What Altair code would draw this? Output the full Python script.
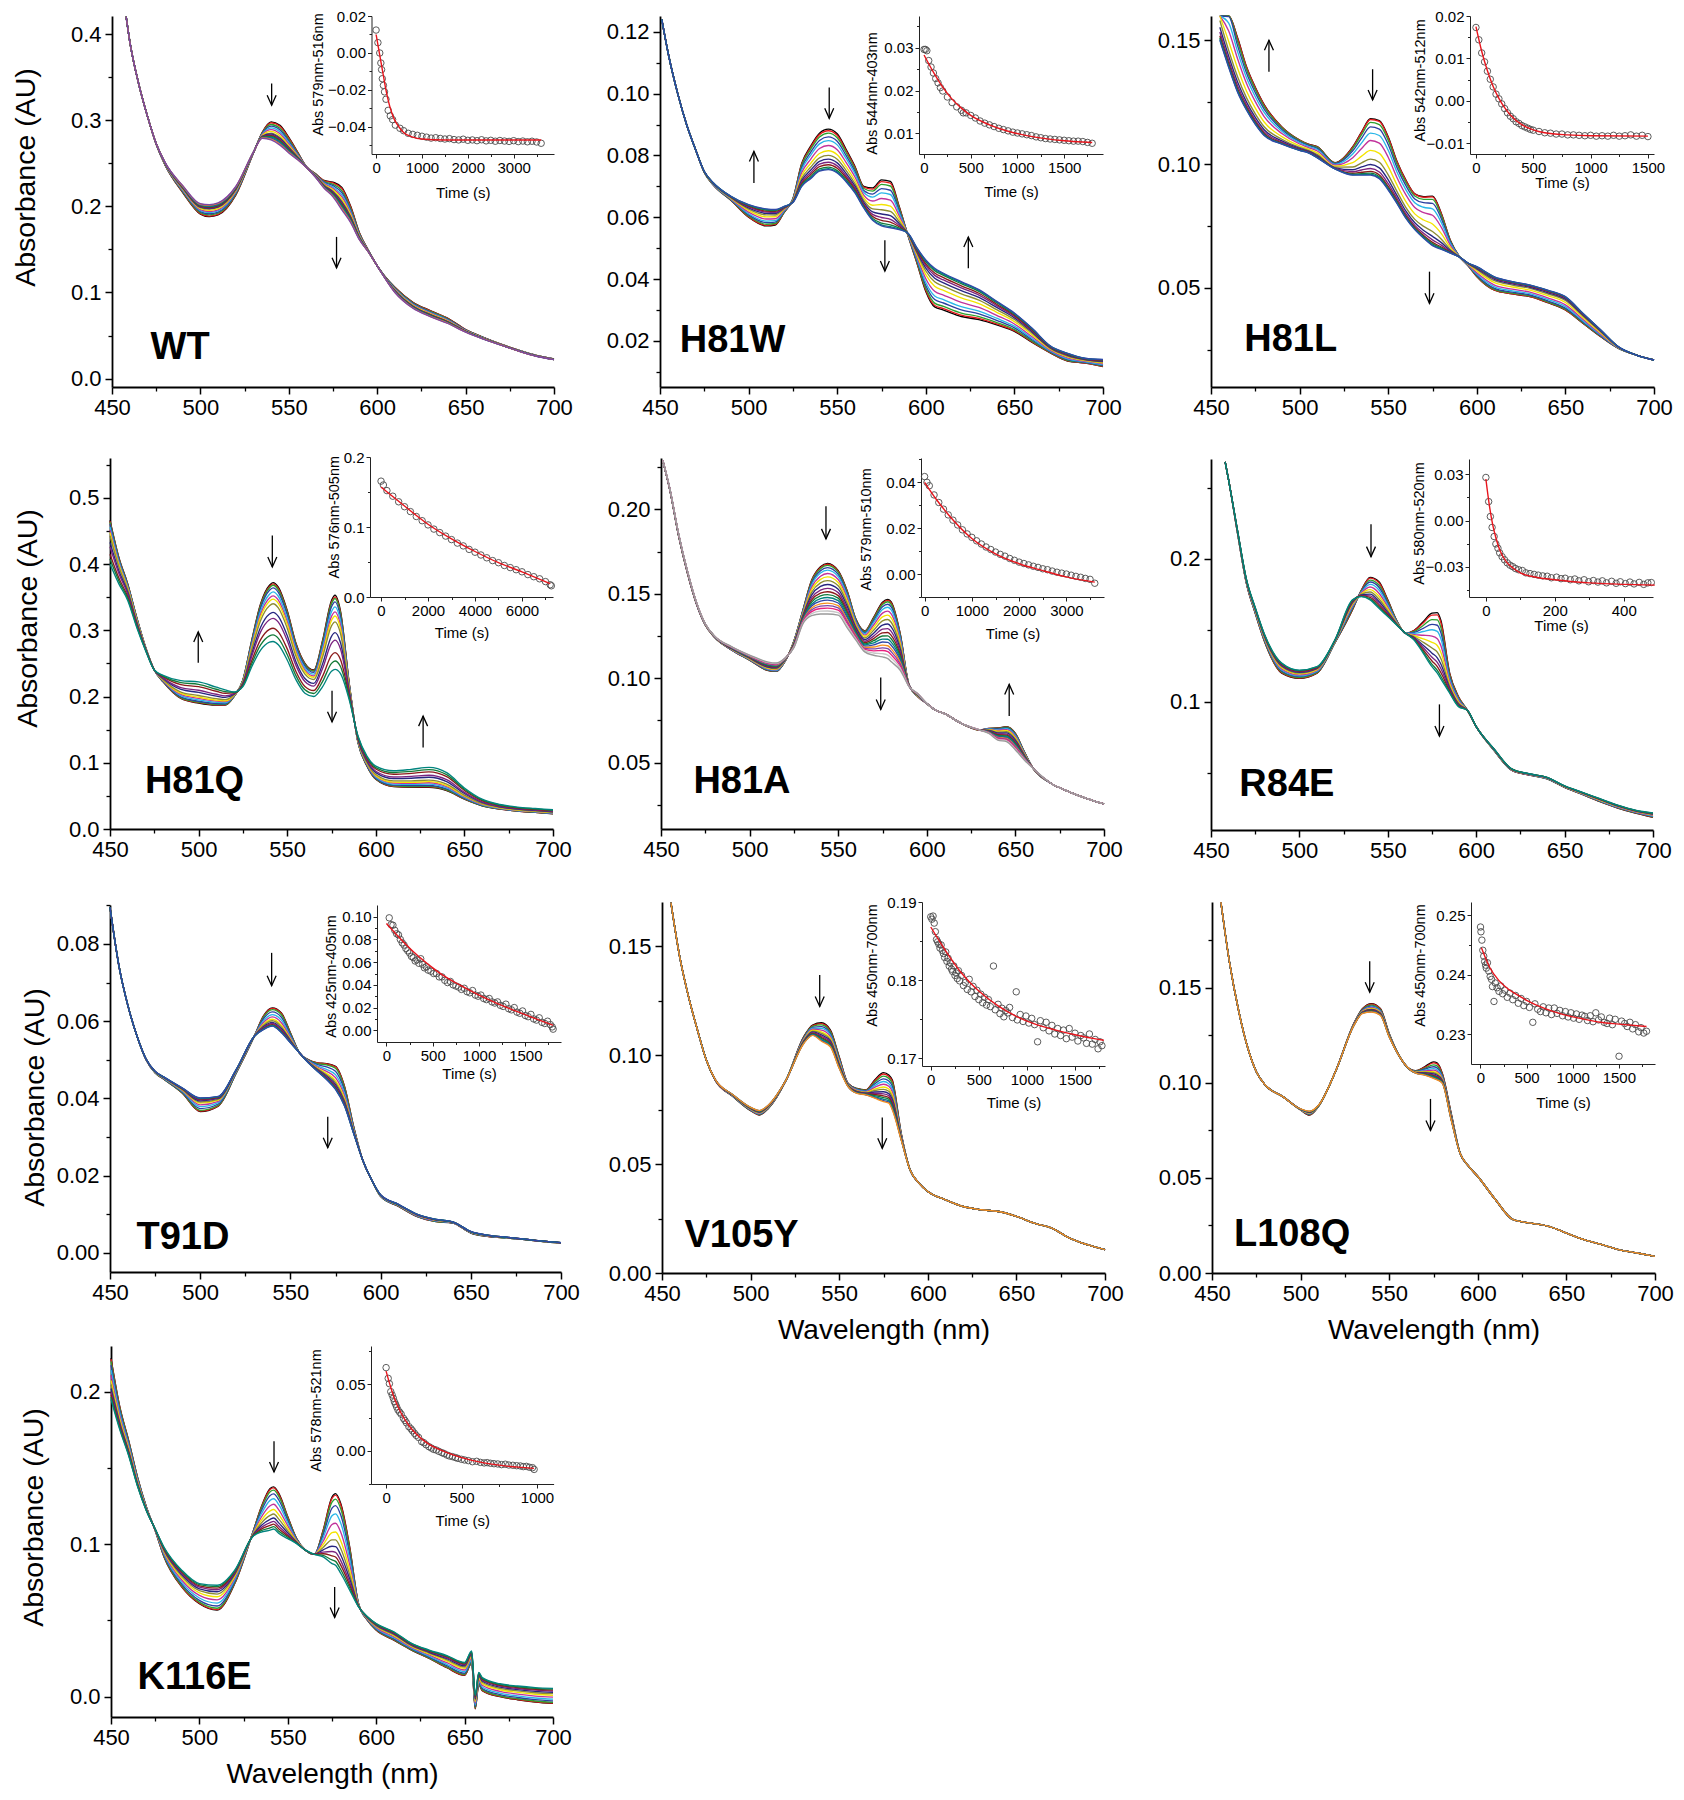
import altair as alt
import pandas as pd

FONT = "Liberation Sans"
CW, CH = 1668, 1784

# Origin-style trace colours (in drawing order: first spectrum -> last spectrum)
PALETTE = ["#000000", "#e41a1c", "#2ca02c", "#2c3fa0", "#29b6e8", "#c1329b", "#f4e400",
           "#8c8c34", "#262680", "#7b2380", "#8b1a1a", "#137a38", "#00847e", "#3048a8",
           "#f6901e", "#7d45a6", "#e8207e", "#c6c6c6", "#9a9a9a"]

X_TICKS = [450, 500, 550, 600, 650, 700]
X_MINOR = [475, 525, 575, 625, 675]

# ---------------- spectra: first and last spectrum, peak height of every trace ----------------
WT_WL = [458,460,465,470,475,480,490,500,505,510,520,530,535,540,545,550,555,560,565,570,575,580,585,590,595,600,610,620,630,640,650,660,670,680,690,700]
WT_FIRST = [0.420,0.392,0.343,0.305,0.272,0.248,0.216,0.191,0.188,0.190,0.213,0.262,0.286,0.298,0.294,0.280,0.263,0.246,0.238,0.230,0.228,0.222,0.200,0.169,0.149,0.131,0.106,0.089,0.079,0.070,0.057,0.048,0.040,0.033,0.027,0.023]
WT_LAST = [0.420,0.392,0.343,0.305,0.273,0.251,0.224,0.203,0.202,0.204,0.223,0.263,0.279,0.277,0.271,0.262,0.254,0.245,0.234,0.221,0.211,0.196,0.181,0.161,0.147,0.131,0.100,0.082,0.072,0.064,0.054,0.046,0.039,0.032,0.026,0.022]
WT_PEAKS = [0.298,0.297,0.295,0.293,0.291,0.289,0.287,0.285,0.284,0.283,0.282,0.281,0.280,0.279,0.278,0.277]

H81W_WL = [451,455,460,465,470,475,480,490,500,510,515,520,525,530,535,540,545,550,555,560,565,570,575,580,585,590,595,600,605,610,620,630,640,650,660,670,680,690,700]
H81W_FIRST = [0.124,0.112,0.100,0.090,0.082,0.0745,0.0705,0.0655,0.0600,0.0572,0.0575,0.0615,0.0660,0.0775,0.0830,0.0872,0.0885,0.0870,0.0820,0.0765,0.0700,0.0695,0.0721,0.0716,0.0635,0.0540,0.0452,0.0360,0.0310,0.0300,0.0279,0.0269,0.0252,0.0231,0.0195,0.0162,0.0135,0.0128,0.0117]
H81W_LAST = [0.124,0.112,0.100,0.090,0.082,0.0748,0.0712,0.0668,0.0641,0.0627,0.0625,0.0635,0.0648,0.0700,0.0725,0.0749,0.0754,0.0743,0.0715,0.0679,0.0630,0.0590,0.0572,0.0566,0.0560,0.0548,0.0501,0.0462,0.0435,0.0419,0.0392,0.0366,0.0328,0.0290,0.0241,0.0185,0.0160,0.0144,0.0140]
H81W_PEAKS = [0.0885,0.0880,0.0872,0.0860,0.0848,0.0832,0.0815,0.0800,0.0788,0.0778,0.0770,0.0762,0.0757,0.0754]

H81L_WL = [455,460,465,470,475,480,490,500,505,510,520,530,535,540,545,550,555,560,565,570,575,580,585,590,595,600,610,620,630,640,650,660,670,680,690,700]
H81L_FIRST = [0.178,0.163,0.151,0.1394,0.131,0.124,0.115,0.1097,0.108,0.107,0.1005,0.107,0.113,0.1183,0.1175,0.111,0.101,0.0935,0.088,0.0868,0.087,0.080,0.0693,0.0628,0.059,0.0545,0.049,0.0475,0.0464,0.044,0.041,0.0356,0.0302,0.0255,0.0228,0.0208]
H81L_LAST = [0.150,0.139,0.129,0.1218,0.116,0.1115,0.108,0.1055,0.1045,0.1025,0.098,0.0955,0.0955,0.0955,0.094,0.0895,0.084,0.078,0.0735,0.070,0.067,0.0655,0.064,0.0625,0.060,0.0585,0.0544,0.0525,0.0511,0.049,0.0464,0.0396,0.0329,0.0261,0.0228,0.0208]
H81L_PEAKS = [0.1183,0.1180,0.1168,0.1150,0.1125,0.1095,0.1055,0.1020,0.0998,0.0982,0.0970,0.0963,0.0958,0.0955]

H81Q_WL = [450,455,460,465,470,475,480,490,500,510,515,520,525,530,535,540,542,545,550,555,560,565,570,575,577,580,585,590,595,600,610,620,630,640,650,660,670,680,690,700]
H81Q_FIRST = [0.466,0.410,0.370,0.320,0.275,0.240,0.222,0.197,0.190,0.187,0.187,0.200,0.225,0.285,0.340,0.368,0.372,0.365,0.330,0.280,0.250,0.240,0.285,0.345,0.353,0.330,0.220,0.130,0.095,0.075,0.064,0.063,0.063,0.058,0.045,0.035,0.030,0.027,0.025,0.023]
H81Q_LAST = [0.400,0.370,0.345,0.305,0.270,0.240,0.232,0.224,0.222,0.214,0.210,0.207,0.215,0.245,0.270,0.282,0.283,0.278,0.255,0.225,0.205,0.200,0.215,0.238,0.241,0.235,0.195,0.140,0.110,0.095,0.088,0.090,0.093,0.085,0.062,0.045,0.037,0.033,0.031,0.029]
H81Q_PEAKS = [0.372,0.370,0.368,0.364,0.358,0.352,0.347,0.340,0.327,0.318,0.303,0.293,0.283]

H81A_WL = [451,455,460,465,470,475,480,490,500,510,515,520,525,530,535,540,544,550,555,560,565,570,575,578,580,585,590,595,600,605,610,620,630,635,640,645,650,655,660,670,680,690,700]
H81A_FIRST = [0.229,0.2114,0.184,0.162,0.144,0.1315,0.1245,0.1166,0.1107,0.1047,0.104,0.110,0.122,0.140,0.158,0.166,0.168,0.1637,0.152,0.135,0.128,0.136,0.145,0.1467,0.145,0.1264,0.096,0.089,0.085,0.081,0.079,0.073,0.0693,0.0703,0.0705,0.0713,0.0673,0.0565,0.0466,0.0378,0.0329,0.0289,0.0256]
H81A_LAST = [0.229,0.2122,0.1852,0.1632,0.1450,0.1322,0.1252,0.1186,0.1137,0.1097,0.109,0.112,0.118,0.132,0.137,0.138,0.138,0.1373,0.130,0.1225,0.1156,0.1136,0.1126,0.1116,0.1097,0.1047,0.095,0.0908,0.085,0.081,0.079,0.073,0.0693,0.0673,0.0634,0.0624,0.0575,0.0516,0.0466,0.0378,0.0329,0.0289,0.0256]
H81A_PEAKS = [0.168,0.1675,0.1668,0.1655,0.164,0.162,0.160,0.1578,0.1555,0.1532,0.1512,0.1495,0.1478,0.1462,0.1445,0.143,0.1415,0.1398,0.138]

R84E_WL = [458,460,465,470,475,480,490,500,510,520,530,535,540,545,550,555,560,565,570,575,578,580,585,590,595,600,610,620,630,640,650,660,670,680,690,700]
R84E_FIRST = [0.268,0.255,0.218,0.183,0.162,0.143,0.120,0.1164,0.120,0.141,0.1643,0.178,0.1871,0.184,0.1713,0.157,0.148,0.150,0.156,0.162,0.1624,0.157,0.120,0.1035,0.094,0.0825,0.066,0.052,0.0486,0.046,0.040,0.035,0.030,0.0255,0.022,0.019]
R84E_LAST = [0.268,0.255,0.220,0.186,0.166,0.148,0.127,0.122,0.1245,0.143,0.1713,0.1736,0.1713,0.1654,0.1596,0.1537,0.148,0.143,0.134,0.1245,0.120,0.116,0.106,0.0965,0.094,0.0825,0.067,0.053,0.0495,0.047,0.041,0.0365,0.032,0.0275,0.024,0.022]
R84E_PEAKS = [0.1871,0.1865,0.1852,0.1838,0.1822,0.1803,0.1785,0.1768,0.1753,0.1741,0.1730,0.1720,0.1713]

T91D_WL = [450,455,460,465,470,475,480,490,500,510,520,530,535,540,545,550,555,560,565,570,575,580,585,590,595,600,610,620,630,640,650,660,670,680,690,700]
T91D_FIRST = [0.0895,0.0742,0.0639,0.0561,0.0500,0.0466,0.0449,0.0414,0.0366,0.0380,0.0466,0.0561,0.0613,0.0634,0.0621,0.0570,0.0518,0.0500,0.0492,0.0490,0.0483,0.0431,0.0328,0.0241,0.0189,0.0146,0.0120,0.0094,0.0081,0.0077,0.0051,0.0042,0.0038,0.0034,0.0029,0.0025]
T91D_LAST = [0.0895,0.0742,0.0639,0.0561,0.0502,0.0470,0.0455,0.0427,0.0401,0.0405,0.0475,0.0561,0.0578,0.0587,0.0570,0.0544,0.0518,0.0492,0.0470,0.0449,0.0423,0.0380,0.0310,0.0241,0.0189,0.0150,0.0125,0.0100,0.0087,0.0080,0.0055,0.0045,0.0040,0.0035,0.0030,0.0026]
T91D_PEAKS = [0.0634,0.0633,0.0630,0.0624,0.0617,0.0611,0.0605,0.0601,0.0597,0.0594,0.0591,0.0589,0.0588,0.0587]

V105Y_WL = [455,460,465,470,475,480,490,500,505,510,520,530,535,540,545,550,555,560,565,570,575,578,580,585,590,595,600,610,620,630,640,650,660,670,680,690,700]
V105Y_FIRST = [0.170,0.145,0.1267,0.1115,0.0977,0.0885,0.0810,0.0745,0.0725,0.0755,0.0885,0.1084,0.1137,0.1148,0.1115,0.0992,0.0870,0.0847,0.0840,0.0885,0.0919,0.0908,0.0885,0.0641,0.0473,0.0412,0.0374,0.0336,0.0305,0.0290,0.0282,0.0260,0.0229,0.0206,0.0160,0.0130,0.0107]
V105Y_LAST = [0.170,0.145,0.1267,0.1115,0.0977,0.0888,0.0818,0.0760,0.0745,0.0770,0.0885,0.1053,0.1090,0.1063,0.1038,0.0939,0.0855,0.0824,0.0817,0.0802,0.0786,0.0779,0.0748,0.0610,0.0473,0.0412,0.0374,0.0336,0.0305,0.0290,0.0282,0.0260,0.0229,0.0206,0.0160,0.0130,0.0107]
V105Y_PEAKS = [0.1148,0.1144,0.1138,0.1130,0.1122,0.1114,0.1106,0.1099,0.1092,0.1086,0.1080,0.1075,0.1070,0.1066,0.1063]

L108Q_WL = [455,460,465,470,475,480,490,500,505,510,520,530,535,540,545,550,555,560,565,570,575,577,580,585,590,595,600,610,620,630,640,650,660,670,680,690,700]
L108Q_FIRST = [0.195,0.1626,0.138,0.1189,0.1058,0.0988,0.0927,0.0857,0.0830,0.0874,0.1066,0.1311,0.1390,0.1416,0.1390,0.1259,0.1154,0.1084,0.1063,0.1084,0.1110,0.1105,0.1049,0.0839,0.0629,0.0559,0.0507,0.0385,0.0280,0.0262,0.0245,0.0210,0.0175,0.0149,0.0122,0.0105,0.0087]
L108Q_LAST = [0.195,0.1626,0.138,0.1189,0.1058,0.0988,0.0927,0.0862,0.0850,0.0880,0.1066,0.1300,0.1365,0.1372,0.1355,0.1241,0.1150,0.1084,0.1050,0.1040,0.1023,0.1015,0.0997,0.0804,0.0629,0.0559,0.0507,0.0385,0.0280,0.0262,0.0245,0.0210,0.0175,0.0149,0.0122,0.0105,0.0087]
L108Q_PEAKS = [0.1416,0.1413,0.1408,0.1403,0.1398,0.1394,0.1390,0.1387,0.1384,0.1381,0.1379,0.1377,0.1375,0.1373,0.1372]

K116E_WL = [450,455,460,465,470,475,480,490,500,510,520,530,535,540,542,545,550,555,560,565,570,575,577,580,585,590,595,600,610,620,630,640,650,654,656,658,660,670,680,690,700]
K116E_FIRST = [0.222,0.190,0.168,0.144,0.1245,0.109,0.0917,0.072,0.061,0.0568,0.0742,0.107,0.1245,0.1365,0.1376,0.1332,0.118,0.1037,0.0961,0.0934,0.1092,0.131,0.1332,0.1266,0.0983,0.0611,0.0502,0.0437,0.0371,0.0306,0.0251,0.019,0.014,0.022,-0.008,0.008,0.004,0.000,-0.002,-0.0035,-0.0044]
K116E_LAST = [0.195,0.175,0.158,0.138,0.122,0.110,0.098,0.083,0.0742,0.0731,0.083,0.1048,0.108,0.1092,0.110,0.107,0.1037,0.1004,0.0961,0.0934,0.0917,0.0873,0.0862,0.0808,0.0699,0.059,0.0525,0.048,0.0426,0.035,0.0306,0.027,0.0225,0.030,0.001,0.016,0.0125,0.0085,0.007,0.006,0.0055]
K116E_PEAKS = [0.1376,0.1370,0.1355,0.1330,0.1298,0.1262,0.1228,0.1198,0.1172,0.1150,0.1132,0.1115,0.1100]

# ---------------- arrows (wavelength, top, bottom, direction) and panel names ----------------
WT_ARROWS = [(540.3, 0.3425, 0.3174, "down"), (577.0, 0.1645, 0.1286, "down")]
H81W_ARROWS = [(545.5, 0.102, 0.092, "down"), (503.0, 0.0813, 0.0711, "up"), (576.9, 0.0526, 0.0426, "down"), (624.0, 0.0536, 0.0435, "up")]
H81L_ARROWS = [(482.7, 0.150, 0.1373, "up"), (541.2, 0.1383, 0.1259, "down"), (573.3, 0.0565, 0.0437, "down")]
H81Q_ARROWS = [(499.8, 0.2975, 0.2508, "up"), (541.6, 0.4432, 0.3955, "down"), (575.3, 0.2085, 0.1618, "down"), (626.7, 0.1704, 0.1231, "up")]
H81A_ARROWS = [(543.1, 0.2018, 0.1825, "down"), (574.0, 0.1004, 0.0815, "down"), (646.5, 0.0963, 0.0776, "up")]
R84E_ARROWS = [(540.5, 0.2243, 0.2016, "down"), (579.2, 0.0981, 0.0759, "down")]
T91D_ARROWS = [(539.6, 0.0777, 0.0692, "down"), (570.7, 0.0352, 0.0272, "down")]
V105Y_ARROWS = [(539.0, 0.1367, 0.1223, "down"), (574.3, 0.0713, 0.0572, "down")]
L108Q_ARROWS = [(539.0, 0.1638, 0.1476, "down"), (573.3, 0.0915, 0.0749, "down")]
K116E_ARROWS = [(542.2, 0.1675, 0.1474, "down"), (576.5, 0.072, 0.052, "down")]

WT_LABEL = ("WT", 488.5, 0.0356)
H81W_LABEL = ("H81W", 490.9, 0.020)
H81L_LABEL = ("H81L", 495.0, 0.0288)
H81Q_LABEL = ("H81Q", 497.7, 0.0714)
H81A_LABEL = ("H81A", 495.7, 0.0388)
R84E_LABEL = ("R84E", 492.9, 0.0416)
T91D_LABEL = ("T91D", 490.4, 0.0038)
V105Y_LABEL = ("V105Y", 494.9, 0.0168)
L108Q_LABEL = ("L108Q", 495.2, 0.020)
K116E_LABEL = ("K116E", 497.3, 0.012)

# ---------------- inset kinetics: measured points and fitted curve ----------------
WT_T = [0,40,80,104,120,136,160,184,216,264,310,360,420,520,600,700,800,900,1000,1100,1200,1300,1400,1500,1600,1700,1800,1900,2000,2100,2200,2300,2400,2500,2600,2700,2800,2900,3000,3100,3200,3300,3400,3500,3600]
WT_V = [0.0124,0.0056,0.0,-0.0054,-0.009,-0.0139,-0.0175,-0.021,-0.025,-0.031,-0.034,-0.036,-0.039,-0.0407,-0.042,-0.0434,-0.044,-0.0445,-0.045,-0.0455,-0.046,-0.0458,-0.0462,-0.0465,-0.0463,-0.0468,-0.047,-0.0466,-0.0472,-0.047,-0.0474,-0.0469,-0.0475,-0.0472,-0.0477,-0.0473,-0.0476,-0.0478,-0.0474,-0.0479,-0.0476,-0.048,-0.0477,-0.0481,-0.0488]
WT_FT = [0,50,100,150,200,250,300,400,500,600,800,1000,1500,2000,3000,3600]
WT_FV = [0.010,0.003,-0.004,-0.011,-0.018,-0.024,-0.029,-0.036,-0.040,-0.043,-0.0455,-0.0465,-0.047,-0.047,-0.047,-0.047]

H81W_T = [0,15,30,50,75,100,125,150,175,200,250,300,350,400,420,450,500,550,600,650,700,750,800,850,900,950,1000,1050,1100,1150,1200,1250,1300,1350,1400,1450,1500,1550,1600,1650,1700,1750,1800]
H81W_V = [0.0296,0.0296,0.0293,0.0270,0.0255,0.0241,0.0228,0.0218,0.0207,0.0199,0.0185,0.0172,0.0162,0.0154,0.0148,0.0148,0.0142,0.0136,0.0129,0.0124,0.0120,0.0116,0.0112,0.0109,0.0106,0.0103,0.0101,0.0099,0.0097,0.0095,0.0092,0.0090,0.0088,0.0087,0.0086,0.0085,0.0084,0.0083,0.0082,0.0082,0.0081,0.0079,0.0077]
H81W_FT = [0,100,200,300,400,500,700,900,1100,1300,1500,1700,1800]
H81W_FV = [0.0283,0.0243,0.0208,0.0180,0.0159,0.0142,0.0120,0.0105,0.0095,0.0088,0.0083,0.0080,0.0079]

H81L_T = [0,25,50,75,100,125,150,175,200,225,250,275,300,325,350,375,400,425,450,475,500,550,600,650,700,750,800,850,900,950,1000,1050,1100,1150,1200,1250,1300,1350,1400,1450,1500]
H81L_V = [0.0173,0.0144,0.0113,0.0092,0.0070,0.0051,0.0033,0.0016,0.0005,-0.0007,-0.0018,-0.0028,-0.0036,-0.0042,-0.0049,-0.0053,-0.0058,-0.0061,-0.0064,-0.0067,-0.0069,-0.0072,-0.0075,-0.0076,-0.0078,-0.0078,-0.0080,-0.0080,-0.0081,-0.0082,-0.0081,-0.0083,-0.0082,-0.0083,-0.0081,-0.0083,-0.0082,-0.0080,-0.0083,-0.0081,-0.0084]
H81L_FT = [0,50,100,150,200,250,300,400,500,600,800,1000,1500]
H81L_FV = [0.0175,0.0117,0.0071,0.0034,0.0006,-0.0016,-0.0033,-0.0056,-0.0068,-0.0075,-0.0080,-0.0082,-0.0083]

H81Q_T = [0,100,250,500,750,1000,1250,1500,1750,2000,2250,2500,2750,3000,3250,3500,3750,4000,4250,4500,4750,5000,5250,5500,5750,6000,6250,6500,6750,7000,7200,7250]
H81Q_V = [0.1655,0.160,0.152,0.144,0.136,0.129,0.122,0.115,0.109,0.103,0.097,0.092,0.087,0.082,0.077,0.073,0.068,0.064,0.060,0.056,0.052,0.049,0.045,0.042,0.039,0.036,0.032,0.029,0.026,0.022,0.0175,0.016]
H81Q_FT = [0,1000,2000,3000,4000,5000,6000,7200]
H81Q_FV = [0.157,0.130,0.104,0.083,0.065,0.049,0.036,0.019]

H81A_T = [0,50,100,200,300,400,500,600,700,800,900,1000,1100,1200,1300,1400,1500,1600,1700,1800,1900,2000,2100,2200,2300,2400,2500,2600,2700,2800,2900,3000,3100,3200,3300,3400,3500,3600]
H81A_V = [0.0425,0.040,0.0385,0.0345,0.0312,0.0283,0.0258,0.0235,0.0214,0.0193,0.0175,0.016,0.0145,0.0131,0.0118,0.0107,0.0096,0.0086,0.0078,0.0068,0.0060,0.0052,0.0046,0.0040,0.0034,0.0029,0.0023,0.0019,0.0013,0.0008,0.0004,0.0,-0.0005,-0.0010,-0.0014,-0.0019,-0.0023,-0.0040]
H81A_FT = [0,250,500,1000,1500,2000,2500,3000,3600]
H81A_FV = [0.040,0.0325,0.026,0.0155,0.0088,0.0045,0.0015,-0.0012,-0.0035]

R84E_T = [0,8,13,18,24,29,35,40,47,54,62,70,78,86,95,106,116,128,140,152,165,178,190,205,218,230,245,258,270,285,298,312,325,338,350,365,378,390,405,418,430,445,458,470,480]
R84E_V = [0.028,0.0123,0.0026,-0.0045,-0.0104,-0.0152,-0.018,-0.021,-0.0235,-0.0255,-0.0275,-0.029,-0.030,-0.0312,-0.032,-0.0325,-0.034,-0.0345,-0.035,-0.0355,-0.036,-0.0362,-0.0372,-0.0368,-0.0378,-0.0375,-0.0385,-0.038,-0.0392,-0.0385,-0.0398,-0.039,-0.040,-0.0392,-0.0405,-0.0395,-0.0408,-0.0398,-0.041,-0.040,-0.0412,-0.0402,-0.0415,-0.0405,-0.0403]
R84E_FT = [0,10,20,30,40,60,80,100,150,200,300,400,490]
R84E_FV = [0.027,0.010,-0.003,-0.012,-0.019,-0.027,-0.031,-0.034,-0.037,-0.0385,-0.0405,-0.0415,-0.042]

T91D_T = [30,50,70,90,110,130,150,170,190,210,230,250,270,290,310,330,350,370,390,410,430,450,480,510,540,570,600,630,660,690,720,750,780,810,840,870,900,930,960,990,1020,1050,1080,1110,1140,1170,1200,1230,1260,1290,1320,1350,1380,1410,1440,1470,1500,1530,1560,1590,1620,1650,1680,1710,1740,1770,1790,1800]
T91D_V = [0.099,0.093,0.0925,0.088,0.085,0.084,0.080,0.077,0.075,0.072,0.070,0.068,0.065,0.064,0.061,0.062,0.059,0.063,0.058,0.055,0.056,0.053,0.052,0.050,0.050,0.047,0.047,0.044,0.042,0.043,0.040,0.039,0.038,0.036,0.037,0.034,0.033,0.035,0.031,0.030,0.031,0.028,0.027,0.028,0.025,0.024,0.025,0.022,0.021,0.023,0.019,0.018,0.020,0.016,0.015,0.017,0.013,0.012,0.014,0.010,0.009,0.011,0.007,0.006,0.008,0.005,0.003,0.001]
T91D_FT = [0,100,200,300,400,500,600,800,1000,1200,1400,1600,1800]
T91D_FV = [0.094,0.085,0.0765,0.0685,0.0615,0.0550,0.0490,0.0395,0.0310,0.0235,0.0168,0.0105,0.0045]

V105Y_T = [0,12,24,36,48,60,72,84,96,108,120,132,144,156,168,180,192,204,216,228,240,252,264,276,288,300,320,340,360,380,400,420,440,460,480,500,520,540,560,580,600,620,652,670,700,720,740,760,780,800,820,850,889,900,930,960,990,1020,1050,1080,1111,1140,1170,1200,1230,1260,1290,1320,1350,1380,1410,1440,1470,1500,1530,1560,1590,1620,1650,1680,1710,1740,1760,1780]
V105Y_V = [0.1881,0.1878,0.1882,0.1873,0.1862,0.1852,0.1849,0.1846,0.1841,0.1845,0.1838,0.1834,0.1829,0.1836,0.1824,0.1828,0.1818,0.1822,0.1814,0.1811,0.1818,0.1806,0.1809,0.1802,0.1812,0.1799,0.1806,0.1793,0.1797,0.1788,0.1801,0.1785,0.1792,0.1779,0.1787,0.1775,0.1782,0.1771,0.1778,0.1768,0.1775,0.1766,0.1818,0.1762,0.1769,0.1757,0.1764,0.1753,0.1761,0.1758,0.1765,0.1752,0.1785,0.1749,0.1756,0.1747,0.1754,0.1745,0.1751,0.1743,0.1721,0.1748,0.1739,0.1746,0.1735,0.1742,0.1731,0.1738,0.1729,0.1736,0.1725,0.1738,0.1727,0.1732,0.1722,0.1729,0.1726,0.1719,0.1731,0.1718,0.1724,0.1712,0.1721,0.1716]
V105Y_FT = [0,100,200,300,400,500,700,900,1100,1300,1500,1700,1800]
V105Y_FV = [0.1868,0.1848,0.1829,0.1812,0.1798,0.1786,0.1767,0.1753,0.1743,0.1736,0.1730,0.1725,0.1723]

L108Q_T = [0,5,15,25,35,45,55,63,75,90,105,120,130,146,160,180,200,220,240,264,290,320,350,380,410,440,470,500,530,567,590,620,650,680,710,740,770,800,830,860,890,920,950,980,1010,1040,1070,1100,1130,1160,1190,1220,1250,1280,1310,1340,1372,1400,1430,1460,1502,1530,1563,1590,1620,1650,1680,1716,1740,1770,1800]
L108Q_V = [0.2480,0.2472,0.2458,0.2441,0.2431,0.2422,0.2416,0.2411,0.2420,0.2406,0.2397,0.2392,0.2380,0.2355,0.2386,0.2378,0.2372,0.2381,0.2368,0.2374,0.2362,0.2369,0.2358,0.2365,0.2352,0.2360,0.2348,0.2355,0.2345,0.2320,0.2351,0.2342,0.2338,0.2346,0.2336,0.2344,0.2333,0.2344,0.2335,0.2340,0.2331,0.2338,0.2329,0.2336,0.2327,0.2334,0.2325,0.2332,0.2330,0.2323,0.2331,0.2321,0.2336,0.2324,0.2329,0.2320,0.2318,0.2327,0.2316,0.2325,0.2263,0.2322,0.2318,0.2313,0.2320,0.2309,0.2316,0.2304,0.2311,0.2302,0.2305]
L108Q_FT = [10,100,200,300,400,500,700,900,1100,1300,1500,1800]
L108Q_FV = [0.2445,0.2412,0.2390,0.2376,0.2366,0.2357,0.2343,0.2333,0.2326,0.2320,0.2317,0.2313]

K116E_T = [0,14,22,31,40,48,55,63,70,79,90,100,115,125,135,151,165,175,188,200,215,236,250,265,284,300,315,332,350,370,385,404,420,440,460,476,500,520,545,572,600,625,650,670,692,715,740,765,790,813,840,865,890,909,930,950,970,981]
K116E_V = [0.0626,0.0545,0.0505,0.0445,0.0420,0.0395,0.0369,0.0350,0.0330,0.0307,0.0290,0.0275,0.0244,0.0228,0.0210,0.0181,0.0165,0.0150,0.0131,0.0115,0.0100,0.0068,0.0060,0.0045,0.0030,0.0020,0.0010,0.0005,-0.0005,-0.0015,-0.0022,-0.0033,-0.0040,-0.0045,-0.0052,-0.0058,-0.0065,-0.0070,-0.0075,-0.0083,-0.0080,-0.0088,-0.0092,-0.0090,-0.0095,-0.0098,-0.0100,-0.0105,-0.0102,-0.0108,-0.0110,-0.0113,-0.0115,-0.0120,-0.0118,-0.0125,-0.0128,-0.0141]
K116E_FT = [0,25,50,75,100,150,200,250,300,400,500,600,700,800,900,980]
K116E_FV = [0.0600,0.0500,0.0410,0.0340,0.0282,0.0192,0.0125,0.0076,0.0038,-0.0012,-0.0052,-0.0080,-0.0101,-0.0116,-0.0126,-0.0133]

# ---------------- layout (plot-area boxes in chart pixels: x0, x1, ytop, ybottom) ----------------
PANELS = [
    dict(wl=WT_WL, first=WT_FIRST, last=WT_LAST, peaks=WT_PEAKS, arrows=WT_ARROWS, label=WT_LABEL,
         box=(104, 546, 8, 379), ydom=(-0.0097, 0.4209), yt=[0.0, 0.1, 0.2, 0.3, 0.4], ym=[0.05, 0.15, 0.25, 0.35], fmt=".1f",
         ytitle=(-87, 169), xtitle=False,
         ins=dict(t=WT_T, v=WT_V, ft=WT_FT, fv=WT_FV, box=(363.5, 546, 8, 146), xdom=(-100, 3880), ydom=(-0.0546, 0.02),
                  xt=[0, 1000, 2000, 3000], xm=[500, 1500, 2500, 3500], yt=[-0.04, -0.02, 0.0, 0.02], ym=[-0.05, -0.03, -0.01, 0.01],
                  fmt=".2f", title="Abs 579nm-516nm", tx=-53.5, ty=66, xty=38)),
    dict(wl=H81W_WL, first=H81W_FIRST, last=H81W_LAST, peaks=H81W_PEAKS, arrows=H81W_ARROWS, label=H81W_LABEL,
         box=(652, 1095, 8, 379), ydom=(0.0051, 0.1251), yt=[0.02, 0.04, 0.06, 0.08, 0.10, 0.12], ym=[0.01, 0.03, 0.05, 0.07, 0.09, 0.11], fmt=".2f",
         ytitle=None, xtitle=False,
         ins=dict(t=H81W_T, v=H81W_V, ft=H81W_FT, fv=H81W_FV, box=(911, 1095, 8, 146), xdom=(-54, 1916), ydom=(0.0052, 0.0374),
                  xt=[0, 500, 1000, 1500], xm=[250, 750, 1250, 1750], yt=[0.01, 0.02, 0.03], ym=[0.015, 0.025, 0.035],
                  fmt=".2f", title="Abs 544nm-403nm", tx=-47, ty=85, xty=37.7)),
    dict(wl=H81L_WL, first=H81L_FIRST, last=H81L_LAST, peaks=H81L_PEAKS, arrows=H81L_ARROWS, label=H81L_LABEL,
         box=(1203, 1646, 8, 379), ydom=(0.0099, 0.1598), yt=[0.05, 0.10, 0.15], ym=[0.025, 0.075, 0.125], fmt=".2f",
         ytitle=None, xtitle=False,
         ins=dict(t=H81L_T, v=H81L_V, ft=H81L_FT, fv=H81L_FV, box=(1462, 1646, 8, 146), xdom=(-52, 1553), ydom=(-0.0125, 0.02),
                  xt=[0, 500, 1000, 1500], xm=[250, 750, 1250], yt=[-0.01, 0.0, 0.01, 0.02], ym=[-0.005, 0.005, 0.015],
                  fmt=".2f", title="Abs 542nm-512nm", tx=-50, ty=72, xty=28.7)),
    dict(wl=H81Q_WL, first=H81Q_FIRST, last=H81Q_LAST, peaks=H81Q_PEAKS, arrows=H81Q_ARROWS, label=H81Q_LABEL,
         box=(102, 545, 450, 821), ydom=(0.0, 0.56), yt=[0.0, 0.1, 0.2, 0.3, 0.4, 0.5], ym=[0.05, 0.15, 0.25, 0.35, 0.45, 0.55], fmt=".1f",
         ytitle=(-83, 610), xtitle=False,
         ins=dict(t=H81Q_T, v=H81Q_V, ft=H81Q_FT, fv=H81Q_FV, box=(362, 545, 449, 589), xdom=(-470, 7320), ydom=(0.0, 0.2),
                  xt=[0, 2000, 4000, 6000], xm=[1000, 3000, 5000, 7000], yt=[0.0, 0.1, 0.2], ym=[0.05, 0.15],
                  fmt=".1f", title="Abs 576nm-505nm", tx=-36, ty=508.7, xty=35.7)),
    dict(wl=H81A_WL, first=H81A_FIRST, last=H81A_LAST, peaks=H81A_PEAKS, arrows=H81A_ARROWS, label=H81A_LABEL,
         box=(653, 1096, 450, 821), ydom=(0.0107, 0.2304), yt=[0.05, 0.10, 0.15, 0.20], ym=[0.025, 0.075, 0.125, 0.175, 0.225], fmt=".2f",
         ytitle=None, xtitle=False,
         ins=dict(t=H81A_T, v=H81A_V, ft=H81A_FT, fv=H81A_FV, box=(913, 1096, 450, 589), xdom=(-76, 3795), ydom=(-0.010, 0.0506),
                  xt=[0, 1000, 2000, 3000], xm=[500, 1500, 2500, 3500], yt=[0.0, 0.02, 0.04], ym=[-0.01, 0.01, 0.03, 0.05],
                  fmt=".2f", title="Abs 579nm-510nm", tx=-55, ty=521, xty=36)),
    dict(wl=R84E_WL, first=R84E_FIRST, last=R84E_LAST, peaks=R84E_PEAKS, arrows=R84E_ARROWS, label=R84E_LABEL,
         box=(1203, 1645, 451, 822), ydom=(0.0101, 0.270), yt=[0.1, 0.2], ym=[0.05, 0.15, 0.25], fmt=".1f",
         ytitle=None, xtitle=False,
         ins=dict(t=R84E_T, v=R84E_V, ft=R84E_FT, fv=R84E_FV, box=(1461, 1645, 451, 589), xdom=(-49, 485), ydom=(-0.0497, 0.040),
                  xt=[0, 200, 400], xm=[100, 300], yt=[-0.03, 0.0, 0.03], ym=[-0.045, -0.015, 0.015],
                  fmt=".2f", title="Abs 580nm-520nm", tx=-50, ty=515, xty=28)),
    dict(wl=T91D_WL, first=T91D_FIRST, last=T91D_LAST, peaks=T91D_PEAKS, arrows=T91D_ARROWS, label=T91D_LABEL,
         box=(102, 553, 897, 1264), ydom=(-0.005, 0.0901), yt=[0.0, 0.02, 0.04, 0.06, 0.08], ym=[0.01, 0.03, 0.05, 0.07, 0.09], fmt=".2f",
         ytitle=(-75.5, 1089), xtitle=False,
         ins=dict(t=T91D_T, v=T91D_V, ft=T91D_FT, fv=T91D_FV, box=(369, 553, 897, 1034), xdom=(-102, 1885), ydom=(-0.0103, 0.1103),
                  xt=[0, 500, 1000, 1500], xm=[250, 750, 1250, 1750], yt=[0.0, 0.02, 0.04, 0.06, 0.08, 0.10], ym=[0.01, 0.03, 0.05, 0.07, 0.09],
                  fmt=".2f", title="Abs 425nm-405nm", tx=-45.5, ty=968, xty=31)),
    dict(wl=V105Y_WL, first=V105Y_FIRST, last=V105Y_LAST, peaks=V105Y_PEAKS, arrows=V105Y_ARROWS, label=V105Y_LABEL,
         box=(654, 1097, 894, 1265), ydom=(0.0, 0.1702), yt=[0.0, 0.05, 0.10, 0.15], ym=[0.025, 0.075, 0.125], fmt=".2f",
         ytitle=None, xtitle=True,
         ins=dict(t=V105Y_T, v=V105Y_V, ft=V105Y_FT, fv=V105Y_FV, box=(914, 1097, 894, 1058), xdom=(-91, 1812), ydom=(0.169, 0.19),
                  xt=[0, 500, 1000, 1500], xm=[250, 750, 1250, 1750], yt=[0.17, 0.18, 0.19], ym=[0.175, 0.185],
                  fmt=".2f", title="Abs 450nm-700nm", tx=-50, ty=957, xty=36.7)),
    dict(wl=L108Q_WL, first=L108Q_FIRST, last=L108Q_LAST, peaks=L108Q_PEAKS, arrows=L108Q_ARROWS, label=L108Q_LABEL,
         box=(1204, 1647, 894, 1265), ydom=(0.0, 0.195), yt=[0.0, 0.05, 0.10, 0.15], ym=[0.025, 0.075, 0.125, 0.175], fmt=".2f",
         ytitle=None, xtitle=True,
         ins=dict(t=L108Q_T, v=L108Q_V, ft=L108Q_FT, fv=L108Q_FV, box=(1463, 1647, 894, 1056), xdom=(-103, 1892), ydom=(0.225, 0.2522),
                  xt=[0, 500, 1000, 1500], xm=[250, 750, 1250, 1750], yt=[0.23, 0.24, 0.25], ym=[0.235, 0.245],
                  fmt=".2f", title="Abs 450nm-700nm", tx=-51, ty=957, xty=38.7)),
    dict(wl=K116E_WL, first=K116E_FIRST, last=K116E_LAST, peaks=K116E_PEAKS, arrows=K116E_ARROWS, label=K116E_LABEL,
         box=(103, 545, 1338, 1709), ydom=(-0.0133, 0.230), yt=[0.0, 0.1, 0.2], ym=[0.05, 0.15], fmt=".1f",
         ytitle=(-78, 1509), xtitle=True,
         ins=dict(t=K116E_T, v=K116E_V, ft=K116E_FT, fv=K116E_FV, box=(363, 545.6, 1338, 1476), xdom=(-100, 1110), ydom=(-0.0251, 0.0789),
                  xt=[0, 500, 1000], xm=[250, 750], yt=[0.0, 0.05], ym=[-0.025, 0.025, 0.075],
                  fmt=".2f", title="Abs 578nm-521nm", tx=-55, ty=1402, xty=36.7)),
]

ARROW_DOWN = "M-0.45,-1L0,0L0.45,-1"
ARROW_UP = "M-0.45,1L0,0L0.45,1"

COLOR_SCALE = alt.Scale(domain=list(range(len(PALETTE))), range=PALETTE)
SHAPE_SCALE = alt.Scale(domain=["down", "up"], range=[ARROW_DOWN, ARROW_UP])

MAIN_AX = dict(labelFont=FONT, labelFontSize=22, labelColor="black", labelFlush=False, labelOverlap=False,
               tickColor="black", tickWidth=1.5, domainColor="black", domainWidth=1.8, grid=False)
INS_AX = dict(labelFont=FONT, labelFontSize=15, labelColor="black", labelFlush=False, labelOverlap=False,
              tickColor="#222222", tickWidth=1, domainColor="#222222", domainWidth=1, grid=False)


def spectra_frame(p):
    assert len(p["wl"]) == len(p["first"]) == len(p["last"])
    p0, pn = p["peaks"][0], p["peaks"][-1]
    rows = []
    for i, pk in enumerate(p["peaks"]):
        f = (p0 - pk) / (p0 - pn)
        for w, a, b in zip(p["wl"], p["first"], p["last"]):
            rows.append({"wl": w, "A": a + f * (b - a), "trace": i})
    return pd.DataFrame(rows)


def panel_layers(p):
    x0, x1, y0, y1 = p["box"]
    xs = alt.Scale(domain=[450, 700], range=[x0, x1], nice=False, zero=False)
    ys = alt.Scale(domain=list(p["ydom"]), range=[y1, y0], nice=False, zero=False, clamp=True)

    if p["xtitle"]:
        xax = alt.Axis(orient="bottom", offset=y1 - CH, values=X_TICKS, format="d", tickSize=7, labelPadding=3,
                       title="Wavelength (nm)", titleFont=FONT, titleFontSize=28, titleFontWeight="normal",
                       titleColor="black", titleX=(x0 + x1) / 2, titleY=57, titleAlign="center",
                       titleBaseline="middle", titleAngle=0, **MAIN_AX)
    else:
        xax = alt.Axis(orient="bottom", offset=y1 - CH, values=X_TICKS, format="d", tickSize=7, labelPadding=3,
                       title=None, **MAIN_AX)
    if p["ytitle"] is not None:
        yax = alt.Axis(orient="left", offset=-x0, values=p["yt"], format=p["fmt"], tickSize=7, labelPadding=4,
                       title="Absorbance (AU)", titleFont=FONT, titleFontSize=28.5, titleFontWeight="normal",
                       titleColor="black", titleX=p["ytitle"][0], titleY=p["ytitle"][1], titleAlign="center",
                       titleBaseline="middle", titleAngle=270, **MAIN_AX)
    else:
        yax = alt.Axis(orient="left", offset=-x0, values=p["yt"], format=p["fmt"], tickSize=7, labelPadding=4,
                       title=None, **MAIN_AX)
    xminor = alt.Axis(orient="bottom", offset=y1 - CH, values=X_MINOR, labels=False, domain=False, tickSize=4,
                      tickWidth=1.3, tickColor="black", grid=False, title=None)
    yminor = alt.Axis(orient="left", offset=-x0, values=p["ym"], labels=False, domain=False, tickSize=4,
                      tickWidth=1.3, tickColor="black", grid=False, title=None)

    spec = alt.Chart(spectra_frame(p)).mark_line(strokeWidth=1.35, interpolate="monotone").encode(
        x=alt.X("wl:Q", scale=xs, axis=xax),
        y=alt.Y("A:Q", scale=ys, axis=yax),
        color=alt.Color("trace:O", scale=COLOR_SCALE, legend=None),
    )

    arr = pd.DataFrame([{"x": a[0], "top": a[1], "bot": a[2], "dir": a[3],
                         "tip": a[2] if a[3] == "down" else a[1]} for a in p["arrows"]])
    stems = alt.Chart(arr).mark_rule(color="black", strokeWidth=1.3).encode(
        x=alt.X("x:Q", scale=xs, axis=xminor),
        y=alt.Y("top:Q", scale=ys, axis=yminor),
        y2="bot:Q",
    )
    heads = alt.Chart(arr).mark_point(filled=False, color="black", strokeWidth=1.3, size=400, opacity=1).encode(
        x=alt.X("x:Q", scale=xs, axis=None),
        y=alt.Y("tip:Q", scale=ys, axis=None),
        shape=alt.Shape("dir:N", scale=SHAPE_SCALE, legend=None),
    )
    lab = pd.DataFrame([{"txt": p["label"][0], "x": p["label"][1], "y": p["label"][2]}])
    label = alt.Chart(lab).mark_text(font=FONT, fontSize=38, fontWeight="bold", color="black",
                                     align="center", baseline="middle").encode(
        x=alt.X("x:Q", scale=xs, axis=None),
        y=alt.Y("y:Q", scale=ys, axis=None),
        text="txt:N",
    )
    return [spec, stems, heads, label]


def inset_layers(p):
    q = p["ins"]
    assert len(q["t"]) == len(q["v"]) and len(q["ft"]) == len(q["fv"])
    x0, x1, y0, y1 = q["box"]
    xs = alt.Scale(domain=list(q["xdom"]), range=[x0, x1], nice=False, zero=False)
    ys = alt.Scale(domain=list(q["ydom"]), range=[y1, y0], nice=False, zero=False)
    xax = alt.Axis(orient="bottom", offset=y1 - CH, values=q["xt"], format="d", tickSize=4, labelPadding=2,
                   title="Time (s)", titleFont=FONT, titleFontSize=15, titleFontWeight="normal", titleColor="black",
                   titleX=(x0 + x1) / 2, titleY=q["xty"], titleAlign="center", titleBaseline="middle", titleAngle=0,
                   **INS_AX)
    yax = alt.Axis(orient="left", offset=-x0, values=q["yt"], format=q["fmt"], tickSize=4, labelPadding=2,
                   title=q["title"], titleFont=FONT, titleFontSize=14.5, titleFontWeight="normal", titleColor="black",
                   titleX=q["tx"], titleY=q["ty"], titleAlign="center", titleBaseline="middle", titleAngle=270,
                   **INS_AX)
    xminor = alt.Axis(orient="bottom", offset=y1 - CH, values=q["xm"], labels=False, domain=False, tickSize=2.5,
                      tickWidth=1, tickColor="#222222", grid=False, title=None)
    yminor = alt.Axis(orient="left", offset=-x0, values=q["ym"], labels=False, domain=False, tickSize=2.5,
                      tickWidth=1, tickColor="#222222", grid=False, title=None)
    pts = alt.Chart(pd.DataFrame({"t": q["t"], "v": q["v"]})).mark_point(
        shape="circle", filled=False, size=42, color="#4a4a4a", strokeWidth=0.9, opacity=1).encode(
        x=alt.X("t:Q", scale=xs, axis=xax),
        y=alt.Y("v:Q", scale=ys, axis=yax),
    )
    fit = alt.Chart(pd.DataFrame({"t": q["ft"], "v": q["fv"]})).mark_line(
        color="#e8141c", strokeWidth=1.4, interpolate="monotone").encode(
        x=alt.X("t:Q", scale=xs, axis=xminor),
        y=alt.Y("v:Q", scale=ys, axis=yminor),
    )
    return [pts, fit]


layers = []
for p in PANELS:
    layers += panel_layers(p)
    layers += inset_layers(p)

chart = (
    alt.layer(*layers)
    .resolve_scale(x="independent", y="independent")
    .properties(width=CW, height=CH, padding=0, autosize=alt.AutoSizeParams(type="none"))
    .configure_view(stroke="transparent")
)

chart.save("out.html", embed_options={"renderer": "svg", "actions": False})
